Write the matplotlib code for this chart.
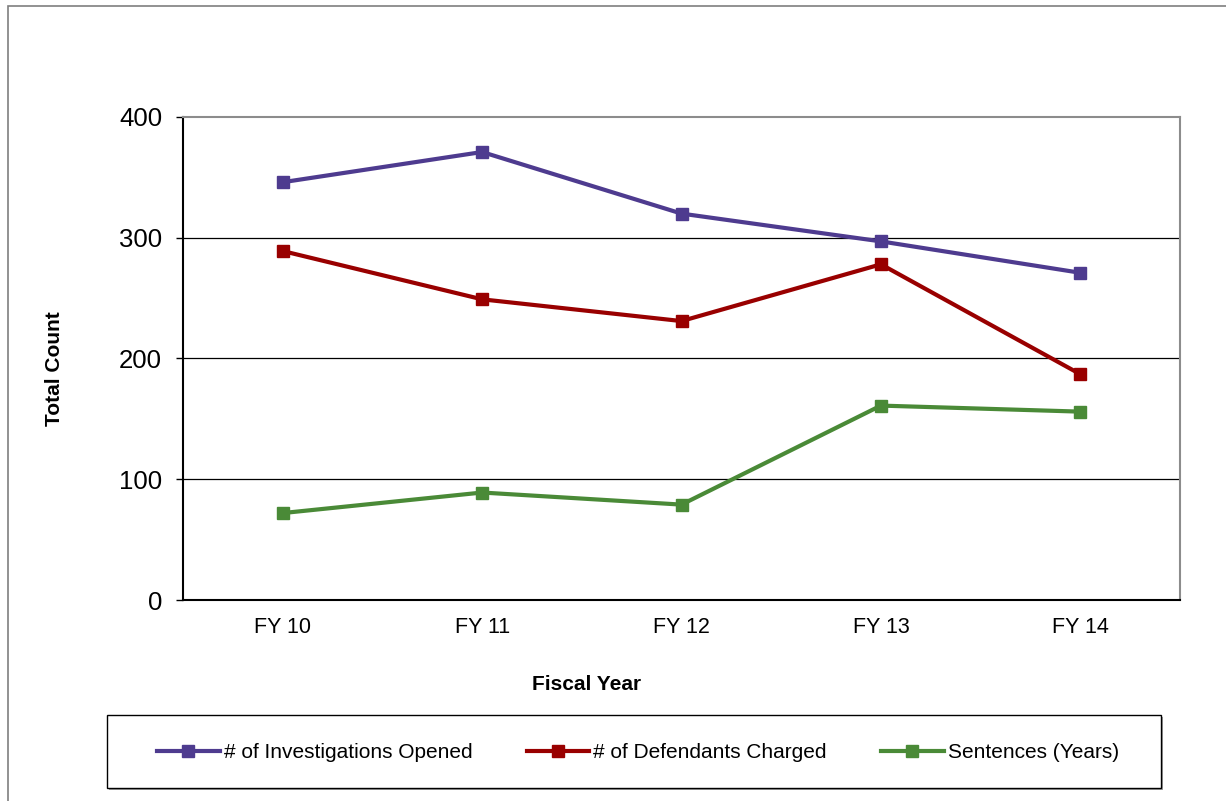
import matplotlib.pyplot as plt
from matplotlib.patches import Rectangle

plt.rcParams['font.family'] = ['Liberation Sans', 'DejaVu Sans']

years = ['FY 10', 'FY 11', 'FY 12', 'FY 13', 'FY 14']
investigations = [346, 371, 320, 297, 271]
defendants = [289, 249, 231, 278, 187]
sentences = [72, 89, 79, 161, 156]

series = [
    ('# of Investigations Opened', investigations, '#4E3B8F'),
    ('# of Defendants Charged', defendants, '#990000'),
    ('Sentences (Years)', sentences, '#4A8A37'),
]

W, H = 1226, 801
fig = plt.figure(figsize=(W / 100, H / 100), dpi=100)

# outer chart border
fig.patches.append(Rectangle((8 / W, -0.01), 1.02, 1 - 6 / H + 0.01,
                             transform=fig.transFigure, fill=False,
                             edgecolor='#7f7f7f', linewidth=1.2))

ax = fig.add_axes([183 / W, 1 - 600 / H, (1180 - 183) / W, (600 - 117) / H])

x = list(range(len(years)))
for label, vals, color in series:
    ax.plot(x, vals, color=color, linewidth=3, marker='s', markersize=8,
            label=label)

ax.set_xlim(-0.5, len(years) - 0.5)
ax.set_ylim(0, 400)
ax.set_yticks([0, 100, 200, 300, 400])
ax.set_xticks(x)
ax.set_xticklabels(years, fontsize=15.5)
ax.tick_params(axis='y', labelsize=18.5, length=5, width=1, pad=10)
ax.tick_params(axis='x', length=0, pad=12)

for y in [100, 200, 300]:
    ax.axhline(y, color='black', linewidth=0.9, zorder=0)

ax.spines['left'].set_color('black')
ax.spines['bottom'].set_color('black')
ax.spines['top'].set_color('#8c8c8c')
ax.spines['right'].set_color('#8c8c8c')
for s in ax.spines.values():
    s.set_linewidth(1.5)

fig.text(54 / W, 1 - 369 / H, 'Total Count', rotation=90, ha='center',
         va='center', fontsize=15, fontweight='bold')
fig.text(587 / W, 1 - 684 / H, 'Fiscal Year', ha='center', va='center',
         fontsize=15, fontweight='bold')

# legend box with a faint shadow
fig.patches.append(Rectangle((109 / W, 1 - 790 / H), (1161 - 107) / W, 73 / H,
                             transform=fig.transFigure, facecolor='#a0a0a0',
                             edgecolor='none', zorder=1))
fig.patches.append(Rectangle((107 / W, 1 - 788 / H), (1161 - 107) / W, 73 / H,
                             transform=fig.transFigure, facecolor='white',
                             edgecolor='black', linewidth=1.0, zorder=2))

leg = fig.legend(loc='center', ncol=3, bbox_to_anchor=(638 / W, 1 - 753 / H),
                 fontsize=15, frameon=False, handlelength=3.0,
                 handletextpad=0.2, columnspacing=2.6)
leg.set_zorder(3)

fig.savefig('out.png', dpi=100)
